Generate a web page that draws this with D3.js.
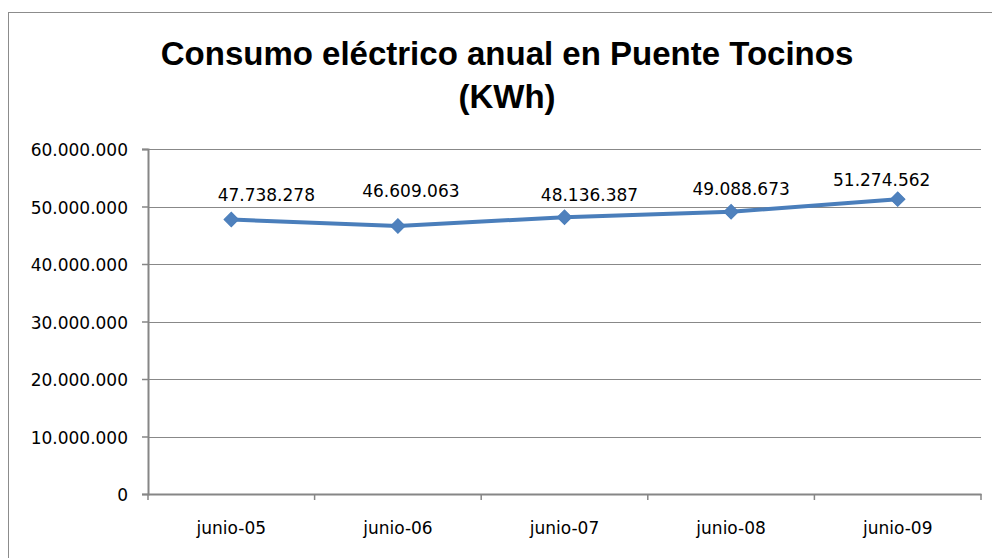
<!DOCTYPE html>
<html>
<head>
<meta charset="utf-8">
<script src="https://cdn.jsdelivr.net/npm/d3@7"></script>
<style>
  html, body { margin: 0; padding: 0; background: #fff; }
  svg { display: block; }
</style>
</head>
<body>
<svg id="chart" width="992" height="558"></svg>
<script>
// ---- data ----
const categories = ["junio-05", "junio-06", "junio-07", "junio-08", "junio-09"];
const values = [47738278, 46609063, 48136387, 49088673, 51274562];
const yTicks = [0, 10000000, 20000000, 30000000, 40000000, 50000000, 60000000];
const titleLines = ["Consumo eléctrico anual en Puente Tocinos", "(KWh)"];

// manual label placement (layout, relative to each point)
const labelDx = [35, 13, 25, 10, -16];
const labelDy = [-19, -29, -16, -17, -13];

// ---- layout ----
const svg = d3.select("#chart");
const plot = { left: 148, right: 981, top: 149, bottom: 494 };
const fmt = v => d3.format(",")(v).replace(/,/g, ".");

// outer frame
svg.append("rect")
  .attr("x", 8.5).attr("y", 12.5)
  .attr("width", 1200).attr("height", 800)
  .attr("fill", "#fff").attr("stroke", "#8c8c8c").attr("stroke-width", 1);

// title
svg.append("g").selectAll("text").data(titleLines).join("text")
  .attr("x", 507)
  .attr("y", (d, i) => 65 + i * 43)
  .attr("text-anchor", "middle")
  .attr("font-family", "Liberation Sans, Arial, sans-serif")
  .attr("font-weight", "bold")
  .attr("font-size", 33)
  .attr("fill", "#000")
  .text(d => d);

const x = d3.scaleBand().domain(categories).range([plot.left, plot.right]).paddingInner(0).paddingOuter(0);
const y = d3.scaleLinear().domain([0, 60000000]).range([plot.bottom, plot.top]);

// gridlines
svg.append("g").selectAll("line").data(yTicks.filter(d => d > 0)).join("line")
  .attr("x1", plot.left).attr("x2", plot.right)
  .attr("y1", d => Math.round(y(d)) + 0.5).attr("y2", d => Math.round(y(d)) + 0.5)
  .attr("stroke", "#888").attr("stroke-width", 1);

// y axis
const yAxis = svg.append("g")
  .attr("transform", `translate(${plot.left},0)`)
  .call(d3.axisLeft(y).tickValues(yTicks).tickFormat(fmt).tickSize(6).tickPadding(14));
yAxis.select(".domain").attr("stroke", "#868686").attr("stroke-width", 2);
yAxis.selectAll(".tick line").attr("stroke", "#868686").attr("stroke-width", 1.5);
yAxis.selectAll(".tick text")
  .attr("font-family", "DejaVu Sans, sans-serif")
  .attr("font-size", 17)
  .attr("fill", "#000")
  .attr("dy", "0.4em");

// x axis
const xAxis = svg.append("g")
  .attr("transform", `translate(0,${plot.bottom})`)
  .call(d3.axisBottom(x).tickSize(0).tickPadding(0).tickSizeOuter(0));
xAxis.select(".domain").attr("stroke", "#868686").attr("stroke-width", 2);
xAxis.selectAll(".tick line").remove();
xAxis.selectAll(".tick text")
  .attr("font-family", "DejaVu Sans, sans-serif")
  .attr("font-size", 17)
  .attr("fill", "#000")
  .attr("y", 40)
  .attr("dy", 0);
// category boundary ticks
const bounds = categories.map(c => x(c)).concat([x(categories[categories.length - 1]) + x.bandwidth()]);
svg.append("g").selectAll("line").data(bounds).join("line")
  .attr("x1", d => d).attr("x2", d => d)
  .attr("y1", plot.bottom).attr("y2", plot.bottom + 6)
  .attr("stroke", "#868686").attr("stroke-width", 1.5);

// series
const cx = c => x(c) + x.bandwidth() / 2;
const pts = categories.map((c, i) => ({ c, v: values[i], i }));
svg.append("path")
  .datum(pts)
  .attr("fill", "none")
  .attr("stroke", "#4A7EBB")
  .attr("stroke-width", 4)
  .attr("stroke-linejoin", "round")
  .attr("d", d3.line().x(d => cx(d.c)).y(d => y(d.v)));

svg.append("g").selectAll("path").data(pts).join("path")
  .attr("transform", d => `translate(${cx(d.c)},${y(d.v)}) rotate(45)`)
  .attr("d", d3.symbol().type(d3.symbolSquare).size(105))
  .attr("fill", "#4F81BD")
  .attr("stroke", "#4A7EBB")
  .attr("stroke-width", 1);

// data labels
svg.append("g").selectAll("text").data(pts).join("text")
  .attr("x", d => cx(d.c) + labelDx[d.i])
  .attr("y", d => y(d.v) + labelDy[d.i])
  .attr("text-anchor", "middle")
  .attr("font-family", "DejaVu Sans, sans-serif")
  .attr("font-size", 17)
  .attr("fill", "#000")
  .text(d => fmt(d.v));
</script>
</body>
</html>
